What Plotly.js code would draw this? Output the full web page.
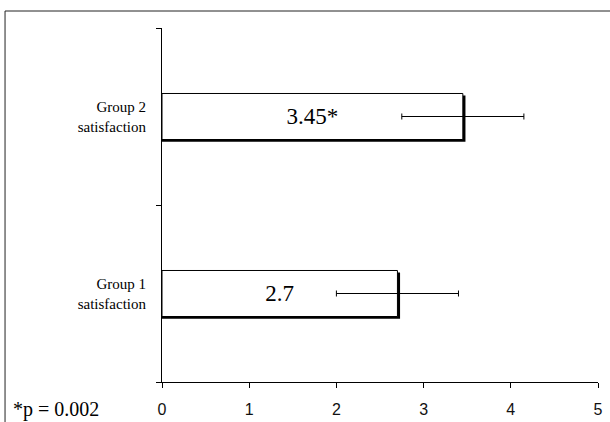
<!DOCTYPE html>
<html>
<head>
<meta charset="utf-8">
<script src="https://cdn.plot.ly/plotly-3.0.1.min.js"></script>
<style>html,body{margin:0;padding:0;background:#fff;}#chart{width:610px;height:422px;}</style>
</head>
<body>
<div id="chart"></div>
<script>
// Data
const categories = ["Group 1<br>satisfaction", "Group 2<br>satisfaction"];
const means = [2.7, 3.45];
const errors = [0.7, 0.7];
const barLabels = ["2.7", "3.45*"];
const xTickValues = [0, 1, 2, 3, 4, 5];
const footnote = "*p = 0.002";

// Style constants
const barWidth = 0.26;
const shadowDx = 0.03;   // in x units (~2.5px)
const shadowDy = 0.012;  // in category units (~2px)

const shadow = {
  type: "bar",
  orientation: "h",
  y: categories,
  x: means.map(v => v + shadowDx),
  width: barWidth,
  offset: -barWidth / 2 - shadowDy,
  marker: {color: "#000", line: {width: 0}},
  hoverinfo: "skip",
  showlegend: false
};

const bars = {
  type: "bar",
  orientation: "h",
  y: categories,
  x: means,
  width: barWidth,
  offset: -barWidth / 2,
  marker: {color: "#fff", line: {color: "#000", width: 1}},
  text: barLabels,
  textposition: "inside",
  insidetextanchor: "middle",
  textangle: 0,
  insidetextfont: {family: "Liberation Serif, Times New Roman, serif", size: 23, color: "#000"},
  error_x: {type: "data", array: errors, visible: true, color: "#000", thickness: 1, width: 3},
  showlegend: false
};

const layout = {
  width: 610,
  height: 422,
  margin: {l: 162, r: 12, t: 28, b: 40},
  paper_bgcolor: "#fff",
  plot_bgcolor: "#fff",
  barmode: "overlay",
  showlegend: false,
  xaxis: {
    range: [0, 5],
    tickvals: xTickValues,
    ticktext: xTickValues.map(String),
    showgrid: false,
    zeroline: false,
    showline: true,
    linecolor: "#000",
    linewidth: 1,
    ticks: "outside",
    ticklen: 5,
    tickcolor: "#000",
    ticklabelstandoff: 8,
    tickfont: {family: "Liberation Sans, Arial, sans-serif", size: 16, color: "#111"},
    fixedrange: true
  },
  yaxis: {
    type: "category",
    categoryorder: "array",
    categoryarray: categories,
    range: [-0.5, 1.5],
    showgrid: false,
    zeroline: false,
    showline: true,
    linecolor: "#000",
    linewidth: 1,
    ticks: "outside",
    tickson: "boundaries",
    ticklen: 5,
    tickcolor: "#000",
    ticklabelstandoff: 12,
    tickfont: {family: "Liberation Serif, Times New Roman, serif", size: 15, color: "#000"},
    fixedrange: true
  },
  shapes: [{
    type: "rect", xref: "paper", yref: "paper",
    x0: -0.36, x1: 1.1, y0: -0.2, y1: 1.048,
    line: {color: "#222", width: 1}, fillcolor: "rgba(0,0,0,0)", layer: "below"
  }],
  annotations: [{
    xref: "paper", yref: "paper",
    x: -0.346, y: -0.078, xanchor: "left", yanchor: "middle",
    text: footnote, showarrow: false,
    font: {family: "Liberation Serif, Times New Roman, serif", size: 20, color: "#000"}
  }]
};

Plotly.newPlot("chart", [shadow, bars], layout, {displayModeBar: false, staticPlot: true});
</script>
</body>
</html>
